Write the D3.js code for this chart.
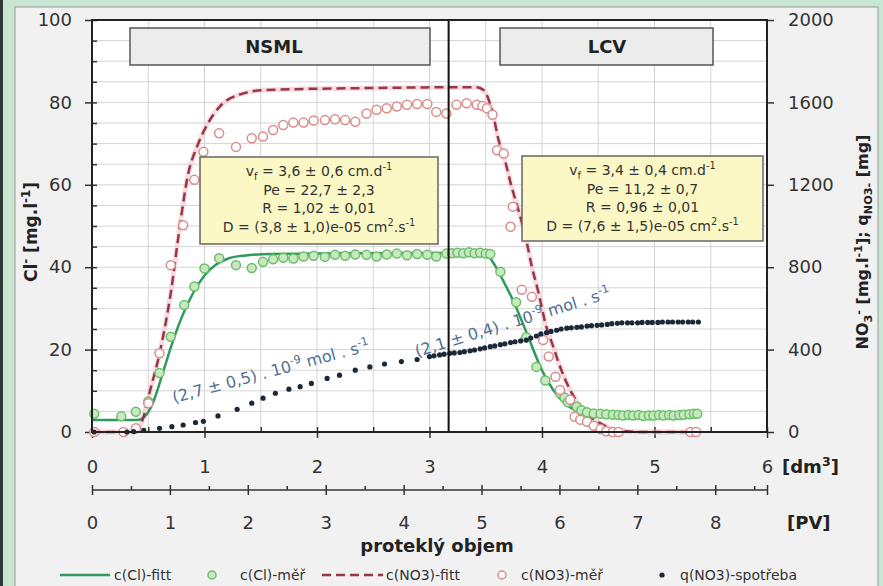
<!DOCTYPE html>
<meta charset="utf-8">
<script src="https://d3js.org/d3.v7.min.js"></script>
<style>
  body { margin: 0; background: #c9e6d3; }
  text { font-family: "DejaVu Sans", sans-serif; }
</style>
<div id="chart"></div>
<script>
  // ---- data ----
  // x in dm3, Cl in mg/l (left axis), NO3 in mg/l and q in mg (right axis)
  var clFit = [[0, 2.9], [0.4, 2.9], [0.47, 3.8], [0.54, 7], [0.62, 13.5], [0.7, 20.5], [0.8, 28], [0.9, 33.8], [1.0, 38],
    [1.1, 40.6], [1.2, 42], [1.35, 42.8], [1.6, 43.2], [2.5, 43.4], [3.45, 43.5], [3.52, 42.8], [3.58, 40.5], [3.65, 37],
    [3.75, 31.5], [3.86, 24.3], [4.0, 15], [4.1, 10.2], [4.2, 7], [4.3, 5.2], [4.42, 4.3], [4.6, 4.0], [5.4, 4.0]];

  var clMer = [[0.02, 4.4], [0.26, 3.8], [0.39, 4.9], [0.5, 7.4], [0.6, 14.3], [0.7, 23.1], [0.82, 30.8], [0.91, 35.3],
    [1.0, 39.7], [1.13, 42.2], [1.28, 40.5], [1.42, 39.8], [1.52, 41.3], [1.61, 41.9], [1.70, 42.3], [1.79, 42.1],
    [1.88, 42.6], [1.97, 42.8], [2.07, 42.5], [2.16, 43.0], [2.25, 42.8], [2.34, 43.1], [2.44, 43.0], [2.53, 42.6],
    [2.62, 43.1], [2.71, 43.3], [2.80, 42.9], [2.89, 43.2], [2.98, 43.0], [3.06, 42.6], [3.15, 43.3], [3.20, 43.4],
    [3.25, 43.5], [3.30, 43.4], [3.35, 43.6], [3.40, 43.4], [3.45, 43.5], [3.50, 43.3], [3.54, 43.2], [3.63, 38.9],
    [3.77, 31.5], [3.86, 23.0], [3.95, 15.8], [4.03, 12.5], [4.16, 9.4], [4.20, 8.4], [4.23, 7.2], [4.31, 6.1],
    [4.35, 5.3], [4.40, 4.8], [4.46, 4.5], [4.52, 4.4], [4.57, 4.3], [4.63, 4.2], [4.68, 4.1], [4.72, 4.0], [4.77, 4.1],
    [4.81, 4.0], [4.86, 4.1], [4.90, 3.9], [4.95, 4.0], [4.99, 4.0], [5.04, 4.1], [5.08, 4.0], [5.13, 4.1], [5.17, 4.0],
    [5.22, 4.1], [5.26, 4.2], [5.31, 4.3], [5.35, 4.4], [5.38, 4.4]];

  var no3Fit = [[0, 0], [0.38, 0], [0.45, 60], [0.51, 188], [0.6, 380], [0.7, 674], [0.78, 996], [0.85, 1240], [0.94, 1394],
    [1.03, 1498], [1.15, 1588], [1.3, 1636], [1.54, 1660], [2.5, 1670], [3.42, 1674], [3.48, 1660], [3.57, 1530],
    [3.61, 1426], [3.67, 1320], [3.73, 1190], [3.79, 1078], [3.86, 932], [3.91, 802], [3.97, 674], [4.03, 528],
    [4.1, 414], [4.16, 318], [4.25, 204], [4.37, 106], [4.52, 42], [4.66, 10], [4.9, 0], [5.4, 0]];

  var no3Mer = [[0.02, 0], [0.28, 0], [0.39, 18], [0.5, 140], [0.6, 382], [0.7, 810], [0.81, 1004], [0.91, 1224],
    [0.99, 1360], [1.13, 1450], [1.28, 1384], [1.42, 1426], [1.52, 1434], [1.61, 1466], [1.70, 1490], [1.79, 1502],
    [1.88, 1502], [1.97, 1512], [2.07, 1514], [2.16, 1518], [2.25, 1514], [2.34, 1506], [2.44, 1546], [2.53, 1564],
    [2.62, 1572], [2.71, 1580], [2.80, 1588], [2.89, 1592], [2.98, 1592], [3.06, 1554], [3.15, 1546], [3.24, 1588],
    [3.33, 1596], [3.42, 1588], [3.47, 1582], [3.51, 1572], [3.56, 1540], [3.60, 1368], [3.66, 1352], [3.72, 996],
    [3.74, 1094], [3.82, 690], [3.91, 656], [4.01, 446], [4.06, 366], [4.12, 268], [4.16, 204], [4.25, 156],
    [4.29, 74], [4.34, 60], [4.40, 50], [4.46, 30], [4.52, 14], [4.57, 4], [4.63, 0], [4.68, 0], [5.32, 0], [5.37, 0]];

  var qNo3 = [[0.02, 0], [0.31, 0], [0.37, 2], [0.46, 8], [0.6, 18], [0.71, 26], [0.81, 34], [0.92, 46], [0.99, 52],
    [1.12, 78], [1.29, 110], [1.42, 140], [1.52, 164], [1.63, 188], [1.75, 208], [1.85, 220], [1.95, 236], [2.09, 260],
    [2.2, 276], [2.34, 300], [2.47, 316], [2.6, 330], [2.75, 342], [2.89, 352], [3.0, 366], [3.04, 370], [3.09, 374],
    [3.13, 378], [3.18, 382], [3.22, 384], [3.27, 386], [3.31, 390], [3.36, 394], [3.40, 398], [3.45, 404], [3.49, 408],
    [3.54, 414], [3.58, 418], [3.63, 424], [3.67, 428], [3.72, 434], [3.76, 438], [3.81, 442], [3.86, 446], [3.90, 456],
    [3.95, 466], [3.99, 476], [4.04, 482], [4.08, 488], [4.13, 494], [4.17, 500], [4.22, 504], [4.26, 506], [4.31, 508],
    [4.35, 510], [4.40, 514], [4.44, 516], [4.49, 518], [4.53, 520], [4.58, 522], [4.62, 526], [4.67, 528], [4.71, 530],
    [4.76, 530], [4.80, 530], [4.85, 530], [4.89, 532], [4.94, 532], [4.98, 532], [5.03, 532], [5.07, 534], [5.12, 534],
    [5.16, 534], [5.21, 534], [5.25, 534], [5.30, 534], [5.34, 534], [5.39, 534]];

  var yLeftTicks = [0, 20, 40, 60, 80, 100];
  var yRightTicks = [0, 400, 800, 1200, 1600, 2000];
  var xDmTicks = [0, 1, 2, 3, 4, 5, 6];
  var xPvTicks = [0, 1, 2, 3, 4, 5, 6, 7, 8];
  var dmPerPv = 0.6925;
  var splitAt = 3.17;
  var legendNames = ["c(Cl)-fitt", "c(Cl)-měř", "c(NO3)-fitt", "c(NO3)-měř", "q(NO3)-spotřeba"];
  var zoneNames = ["NSML", "LCV"];
  var paramsLeft = [
    [["v", ""], ["f", "sub"], [" = 3,6 ± 0,6 cm.d", ""], ["-1", "sup"]],
    [["Pe = 22,7 ± 2,3", ""]],
    [["R = 1,02 ± 0,01", ""]],
    [["D = (3,8 ± 1,0)e-05 cm", ""], ["2", "sup"], [".s", ""], ["-1", "sup"]]
  ];
  var paramsRight = [
    [["v", ""], ["f", "sub"], [" = 3,4 ± 0,4 cm.d", ""], ["-1", "sup"]],
    [["Pe = 11,2 ± 0,7", ""]],
    [["R = 0,96 ± 0,01", ""]],
    [["D = (7,6 ± 1,5)e-05 cm", ""], ["2", "sup"], [".s", ""], ["-1", "sup"]]
  ];
  var rateLeft = [["(2,7 ± 0,5) . 10", ""], ["-9", "sup"], [" mol . s", ""], ["-1", "sup"]];
  var rateRight = [["(2,1 ± 0,4) . 10", ""], ["-9", "sup"], [" mol . s", ""], ["-1", "sup"]];

  // ---- layout ----
  var W = 883, H = 586;
  var margin = { top: 20, left: 92, right: 116, bottom: 154 };
  var width = W - margin.left - margin.right,
    height = H - margin.top - margin.bottom;
  var x0 = margin.left, y0 = margin.top + height;
  var fmt = d3.format("d");

  var svg = d3.select("#chart").append("svg")
    .attr("width", W).attr("height", H);

  // outer frame
  svg.append("rect").attr("width", W).attr("height", H).attr("fill", "#c9e6d3");
  svg.append("rect").attr("x", 0).attr("width", 3).attr("height", H).attr("fill", "#2e3a33");
  svg.append("rect").attr("x", 15).attr("y", 7).attr("width", 863).attr("height", 590)
    .attr("fill", "#f1f1f1").attr("stroke", "#9a9a9a");

  var x = d3.scaleLinear().domain([0, 6]).range([x0, x0 + width]);
  var pv = d3.scaleLinear().domain([0, 6 / dmPerPv]).range([x0, x0 + width]);
  var yL = d3.scaleLinear().domain([0, 100]).range([y0, margin.top]);
  var yR = d3.scaleLinear().domain([0, 2000]).range([y0, margin.top]);

  // plot background + grid
  svg.append("rect").attr("x", x0).attr("y", margin.top).attr("width", width).attr("height", height)
    .attr("fill", "#ffffff");
  svg.append("g").selectAll("line").data(x.ticks(12)).enter().append("line")
    .attr("x1", d => x(d)).attr("x2", d => x(d)).attr("y1", margin.top).attr("y2", y0)
    .attr("stroke", "#d4d4d4").attr("stroke-width", 1);
  svg.append("g").selectAll("line").data(yL.ticks(20)).enter().append("line")
    .attr("y1", d => yL(d)).attr("y2", d => yL(d)).attr("x1", x0).attr("x2", x0 + width)
    .attr("stroke", "#d4d4d4").attr("stroke-width", 1);

  function styleAxis(g, size) {
    g.select(".domain").remove();
    g.selectAll(".tick line").attr("stroke", "#333").attr("stroke-width", 1.5);
    g.selectAll(".tick text").attr("fill", "#333").style("font-size", size + "px")
      .style("font-family", "'DejaVu Sans', sans-serif");
  }

  // left axis
  svg.append("g").attr("transform", "translate(" + x0 + ",0)")
    .call(d3.axisLeft(yL).tickValues(yLeftTicks).tickFormat(fmt).tickSize(7).tickPadding(13))
    .call(g => styleAxis(g, 18));
  svg.append("g").attr("transform", "translate(" + x0 + ",0)")
    .call(d3.axisRight(yL).ticks(20).tickSize(5).tickFormat(""))
    .call(g => styleAxis(g, 18));

  // right axis
  svg.append("g").attr("transform", "translate(" + (x0 + width) + ",0)")
    .call(d3.axisRight(yR).tickValues(yRightTicks).tickFormat(fmt).tickSize(7).tickPadding(14))
    .call(g => styleAxis(g, 18));

  // bottom axis (dm3)
  svg.append("g").attr("transform", "translate(0," + y0 + ")")
    .call(d3.axisBottom(x).tickValues(xDmTicks).tickFormat(fmt).tickSize(6).tickPadding(22))
    .call(g => styleAxis(g, 18));
  svg.append("g").attr("transform", "translate(0," + y0 + ")")
    .call(d3.axisTop(x).ticks(12).tickSize(5).tickFormat(""))
    .call(g => styleAxis(g, 18));

  // second axis (PV)
  var pvY = 490;
  svg.append("line").attr("x1", x0).attr("x2", x0 + width).attr("y1", pvY).attr("y2", pvY)
    .attr("stroke", "#333").attr("stroke-width", 1.5);
  svg.append("g").attr("transform", "translate(0," + pvY + ")")
    .call(d3.axisBottom(pv).tickValues(xPvTicks.concat([6 / dmPerPv])).tickSize(5).tickPadding(21)
      .tickFormat(d => Number.isInteger(d) ? d : ""))
    .call(g => styleAxis(g, 18))
    .call(g => g.selectAll(".tick line").attr("y1", -5));
  svg.append("g").attr("transform", "translate(0," + pvY + ")")
    .call(d3.axisTop(pv).tickValues(pv.ticks(17).filter(d => !Number.isInteger(d))).tickSize(4).tickFormat(""))
    .call(g => styleAxis(g, 18));

  // data marks
  var lineL = d3.line().x(d => x(d[0])).y(d => yL(d[1])).curve(d3.curveMonotoneX);
  var lineR = d3.line().x(d => x(d[0])).y(d => yR(d[1])).curve(d3.curveMonotoneX);

  svg.append("path").datum(no3Fit).attr("d", lineR).attr("fill", "none")
    .attr("stroke", "#f2c6ca").attr("stroke-width", 5).attr("opacity", 0.6);
  svg.append("path").datum(clFit).attr("d", lineL).attr("fill", "none")
    .attr("stroke", "#2f9a5c").attr("stroke-width", 2.5);
  svg.append("path").datum(no3Fit).attr("d", lineR).attr("fill", "none")
    .attr("stroke", "#9b3446").attr("stroke-width", 2.5).attr("stroke-dasharray", "9,5");

  svg.append("g").selectAll("circle").data(clMer).enter().append("circle")
    .attr("cx", d => x(d[0])).attr("cy", d => yL(d[1])).attr("r", 4.5)
    .attr("fill", "#c8e9c0").attr("stroke", "#6cbf6a").attr("stroke-width", 1.5);
  svg.append("g").selectAll("circle").data(no3Mer).enter().append("circle")
    .attr("cx", d => x(d[0])).attr("cy", d => yR(d[1])).attr("r", 4.5)
    .attr("fill", "#ffffff").attr("stroke", "#d98c8c").attr("stroke-width", 1.5);
  svg.append("g").selectAll("circle").data(qNo3).enter().append("circle")
    .attr("cx", d => x(d[0])).attr("cy", d => yR(d[1])).attr("r", 2.6)
    .attr("fill", "#1b2838");

  // split line + frame
  svg.append("line").attr("x1", x(splitAt)).attr("x2", x(splitAt)).attr("y1", margin.top).attr("y2", y0)
    .attr("stroke", "#111").attr("stroke-width", 2);
  svg.append("rect").attr("x", x0).attr("y", margin.top).attr("width", width).attr("height", height)
    .attr("fill", "none").attr("stroke", "#222").attr("stroke-width", 2);

  // helper for sub/superscripts
  function rich(sel, parts, size) {
    var shift = 0;
    parts.forEach(function(p) {
      var target = p[1] == "sup" ? -size * 0.4 : p[1] == "sub" ? size * 0.25 : 0;
      var t = sel.append("tspan").text(p[0]).attr("dy", target - shift);
      if (p[1]) t.style("font-size", (size * 0.7) + "px");
      shift = target;
    });
  }

  // zone boxes
  var zoneBoxes = [{ x: 130, w: 300, cx: 274 }, { x: 500, w: 213, cx: 607 }];
  zoneBoxes.forEach(function(b, i) {
    svg.append("rect").attr("x", b.x).attr("y", 28).attr("width", b.w).attr("height", 37)
      .attr("fill", "#ececec").attr("stroke", "#555").attr("stroke-width", 1.5);
    svg.append("text").attr("x", b.cx).attr("y", 53).attr("text-anchor", "middle")
      .style("font-size", "18px").style("font-weight", "bold").attr("fill", "#222").text(zoneNames[i]);
  });

  // parameter boxes
  var paramBoxes = [{ x: 200, y: 157, w: 238, h: 87, lines: paramsLeft }, { x: 522, y: 156, w: 241, h: 85, lines: paramsRight }];
  paramBoxes.forEach(function(b) {
    svg.append("rect").attr("x", b.x).attr("y", b.y).attr("width", b.w).attr("height", b.h)
      .attr("fill", "#fbf8c6").attr("stroke", "#666").attr("stroke-width", 1.5);
    b.lines.forEach(function(ln, j) {
      var t = svg.append("text").attr("x", b.x + b.w / 2).attr("y", b.y + 19 + j * 18.5)
        .attr("text-anchor", "middle").attr("fill", "#333").style("font-size", "14px");
      rich(t, ln, 14);
    });
  });

  // rate annotations
  var r1 = svg.append("text").attr("transform", "translate(174,403) rotate(-15)")
    .attr("fill", "#4f6f94").style("font-size", "16px");
  rich(r1, rateLeft, 16);
  var r2 = svg.append("text").attr("transform", "translate(417,357) rotate(-17)")
    .attr("fill", "#4f6f94").style("font-size", "16px");
  rich(r2, rateRight, 16);

  // axis titles
  var tl = svg.append("text").attr("transform", "translate(37,232) rotate(-90)")
    .attr("text-anchor", "middle").attr("fill", "#222").style("font-size", "17px").style("font-weight", "bold");
  rich(tl, [["Cl", ""], ["-", "sup"], [" [mg.l", ""], ["-1", "sup"], ["]", ""]], 17);
  var tr = svg.append("text").attr("transform", "translate(868,242) rotate(-90)")
    .attr("text-anchor", "middle").attr("fill", "#222").style("font-size", "16px").style("font-weight", "bold");
  rich(tr, [["NO", ""], ["3", "sub"], ["-", "sup"], [" [mg.l", ""], ["-1", "sup"], ["]; q", ""], ["NO3-", "sub"], [" [mg]", ""]], 16);

  svg.append("text").attr("x", 782).attr("y", 473).attr("fill", "#222")
    .style("font-size", "18px").style("font-weight", "bold")
    .call(t => rich(t, [["[dm", ""], ["3", "sup"], ["]", ""]], 18));
  svg.append("text").attr("x", 787).attr("y", 529).attr("fill", "#222")
    .style("font-size", "18px").style("font-weight", "bold").text("[PV]");
  svg.append("text").attr("x", 437).attr("y", 552).attr("text-anchor", "middle").attr("fill", "#222")
    .style("font-size", "18px").style("font-weight", "bold").text("proteklý objem");

  // legend
  var ly = 575;
  var leg = svg.append("g");
  leg.append("line").attr("x1", 60).attr("x2", 110).attr("y1", ly).attr("y2", ly)
    .attr("stroke", "#2f9a5c").attr("stroke-width", 2.5);
  leg.append("circle").attr("cx", 212).attr("cy", ly).attr("r", 4)
    .attr("fill", "#c8e9c0").attr("stroke", "#6cbf6a").attr("stroke-width", 1.5);
  leg.append("line").attr("x1", 322).attr("x2", 383).attr("y1", ly).attr("y2", ly)
    .attr("stroke", "#9b3446").attr("stroke-width", 2.5).attr("stroke-dasharray", "9,5");
  leg.append("circle").attr("cx", 502).attr("cy", ly).attr("r", 4)
    .attr("fill", "#fff").attr("stroke", "#d98c8c").attr("stroke-width", 1.5);
  leg.append("circle").attr("cx", 662).attr("cy", ly).attr("r", 2.6).attr("fill", "#1b2838");
  var legX = [114, 240, 386, 521, 680];
  leg.selectAll("text").data(legendNames).enter().append("text")
    .attr("x", (d, i) => legX[i]).attr("y", ly + 5).attr("fill", "#333").style("font-size", "14px")
    .text(d => d);
</script>
